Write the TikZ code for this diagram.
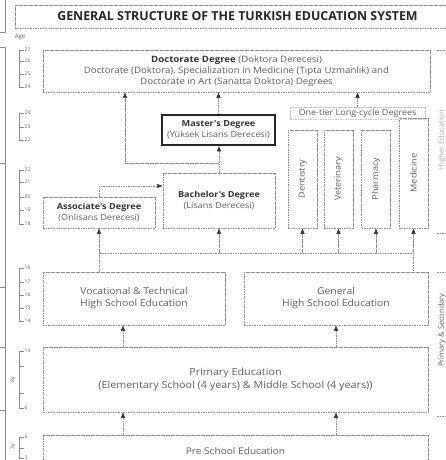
\documentclass[tikz,border=0pt]{standalone}
\usepackage{fontspec}
\setmainfont{Open Sans}
\newfontfamily\bodyfont{Open Sans}[FakeStretch=1.1]
\usetikzlibrary{arrows.meta}
\definecolor{txtgray}{HTML}{5E5E5E}
\definecolor{linegray}{HTML}{8C8C8C}
\newcommand\degname[1]{{\color{black!80}\bfseries #1}}

\begin{document}
\begin{tikzpicture}[x=1pt,y=-1pt,
    box/.style={draw=linegray, dash pattern=on 1.6pt off 0.9pt, line width=0.5pt,
      inner sep=1pt, align=center, text=txtgray, font=\bodyfont\fontsize{8.3}{11}\selectfont},
    wire/.style={draw=linegray, dash pattern=on 1.6pt off 0.9pt, line width=0.5pt},
    arr/.style={wire, -{Latex[length=5.5pt,width=4.5pt,color=black!80]}},
    agel/.style={draw=linegray, line width=0.4pt},
    agetxt/.style={right, inner sep=0.5pt, text=txtgray, font=\fontsize{5}{5}\selectfont}]
\useasboundingbox (0,0) rectangle (446,460);
\clip (0,0) rectangle (446,460);

\node[box, minimum width=445pt, minimum height=23pt, text=black!85,
  font=\bfseries\fontsize{12.4}{14}\selectfont] (ttl) at (237.5,16.5)
  {GENERAL STRUCTURE OF THE TURKISH EDUCATION SYSTEM};
\node[text=txtgray, inner sep=0pt, font=\fontsize{6}{6}\selectfont] (age) at (20,37) {Age};

\node[box, minimum width=387pt, minimum height=42pt, font=\bodyfont\fontsize{8.8}{11}\selectfont]
  (doc) at (236.5,71)
  {\degname{Doctorate Degree} (Doktora Derecesi)\\
   Doctorate (Doktora), Specialization in Medicine (Tıpta Uzmanlık) and\\
   Doctorate in Art (Sanatta Doktora) Degrees};
\node[box, solid, draw=black!85, line width=1.6pt, minimum width=113pt, minimum height=30pt]
  (mas) at (218.5,130) {\degname{Master's Degree}\\(Yüksek Lisans Derecesi)};
\node[box, draw=linegray!50, minimum width=135pt, minimum height=12pt,
  font=\bodyfont\fontsize{8.2}{9}\selectfont] (one) at (357.5,113) {One-tier Long-cycle Degrees};
\foreach \n/\x/\t in {den/302.5/Dentistry, vet/338.5/Veterinary, pha/376/Pharmacy}
  \node[box, minimum width=29pt, minimum height=98pt] (\n) at (\x,179) {\rotatebox{90}{\t}};
\node[box, minimum width=29pt, minimum height=110pt] (med) at (413.5,173) {\rotatebox{90}{Medicine}};
\node[box, minimum width=112pt, minimum height=31pt] (ass) at (99,212.5)
  {\degname{Associate's Degree}\\(Önlisans Derecesi)};
\node[box, minimum width=112pt, minimum height=55pt] (bac) at (219,200.5)
  {\degname{Bachelor's Degree}\\(Lisans Derecesi)};
\node[box, minimum width=182pt, minimum height=53pt, font=\bodyfont\fontsize{9.4}{12}\selectfont]
  (voc) at (134,298.5) {Vocational \& Technical\\High School Education};
\node[box, minimum width=184pt, minimum height=53pt, font=\bodyfont\fontsize{9.4}{12}\selectfont]
  (gen) at (336,298.5) {General\\High School Education};
\node[box, minimum width=385pt, minimum height=65pt, font=\bodyfont\fontsize{9.8}{12.5}\selectfont]
  (pri) at (235.5,379.5)
  {Primary Education\\(Elementary School (4 years) \& Middle School (4 years))};
\node[box, minimum width=385pt, minimum height=32pt, font=\bodyfont\fontsize{9.2}{12}\selectfont]
  (pre) at (235.5,451) {Pre School Education};

\draw[arr] (mas.north) -- (mas.north |- doc.south);
\draw[arr] (bac.north) -- (bac.north |- mas.south);
\coordinate (j1) at (bac.north |- 0,163);
\coordinate (j2) at (125,163);
\draw[arr] (j1) -- (j2) -- (j2 |- doc.south);
\coordinate (k) at (bac.west |- 0,186);
\draw[arr] (ass.north) |- (k);
\draw[arr] (one.north) -- (one.north |- doc.south);

\coordinate (b1) at (ass.south |- 0,253);
\coordinate (b2) at (med.south |- 0,253);
\draw[wire] (voc.north -| b1) -- (b1) -- (b2) -- (gen.north -| b2);
\foreach \n in {ass,bac,den,vet,pha,med}
  \draw[arr] (\n.south |- b1) -- (\n.south);
\foreach \x/\n in {123/voc,336/gen} {
  \draw[arr] (pri.north -| \x,0) -- (\n.south -| \x,0);
  \draw[arr] (pre.north -| \x,0) -- (pri.south -| \x,0);
}

\foreach \t/\b in {50/87,113/140,170/224,268/321,351/408,437/458}
  \draw[agel] (24,\t) -- (19,\t) -- (19,\b) -- (24,\b);
\foreach \y/\a in {50/27,61/26,74/25,87/24,113/24,127/23,140/22,170/22,182/21,197/20,210/19,
    224/18,268/18,282/17,295/16,308/15,321/14,351/14,366/,393/,408/6,437/6,448/,458/3}
  \draw[agel] (19,\y) -- (24,\y) node[agetxt] (a\y) {\a};
\node[agetxt, rotate=90, anchor=center] (y8) at (13,380) {8y};
\node[agetxt, rotate=90, anchor=center] (y3) at (13,447) {3y};

\draw[agel] (5,0) -- (5,32) -- (0,32);
\draw[agel] (0,47) -- (5,47) -- (5,460);
\foreach \y in {163,287,347,410}
  \draw[agel] (0,\y) -- (5,\y);
\foreach \y in {50,233,272,416}
  \draw[wire] (437,\y) -- (446,\y);
\node[rotate=90, text=txtgray!50, font=\fontsize{7.5}{8}\selectfont] (he) at (442,140) {Higher Education};
\node[rotate=90, text=txtgray, font=\fontsize{7.5}{8}\selectfont] (ps) at (442,330) {Primary \& Secondary};
\end{tikzpicture}
\end{document}
